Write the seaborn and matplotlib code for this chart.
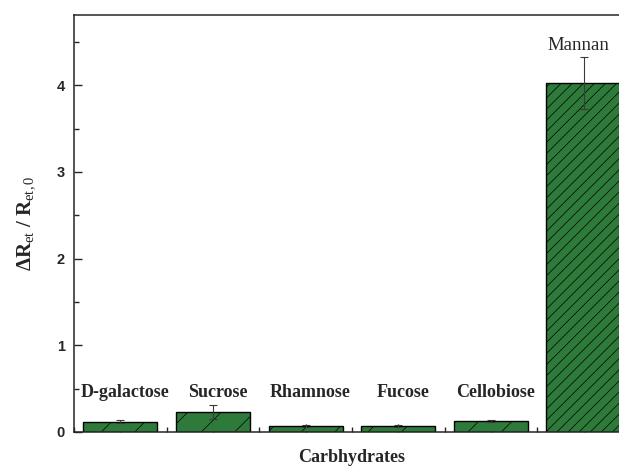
import matplotlib
matplotlib.use("Agg")
import matplotlib.pyplot as plt
import seaborn as sns
import pandas as pd
from matplotlib.ticker import MultipleLocator

# Response of the sensor to each carbohydrate
categories = ["D-galactose", "Sucrose", "Rhamnose", "Fucose", "Cellobiose", "Mannan"]
values = [0.12, 0.23, 0.07, 0.07, 0.13, 4.03]
errors = [0.02, 0.08, 0.015, 0.01, 0.01, 0.30]
hatches = ["/", "/", "/", "/", "/", "///"]

sns.set_style("ticks")
plt.rcParams["font.family"] = ["Liberation Serif", "DejaVu Serif"]
plt.rcParams["mathtext.fontset"] = "custom"
plt.rcParams["mathtext.rm"] = "Liberation Serif"
plt.rcParams["mathtext.bf"] = "Liberation Serif:bold"
plt.rcParams["mathtext.it"] = "Liberation Serif:italic"
plt.rcParams["hatch.linewidth"] = 0.5

df = pd.DataFrame({"carb": categories, "val": values})

fig = plt.figure(figsize=(6.19, 4.66), dpi=100)
ax = fig.add_axes([0.1195, 0.073, 0.898, 0.895])

green = "#2d7a3b"
sns.barplot(data=df, x="carb", y="val", color=green, saturation=1,
            edgecolor="black", linewidth=1.0, width=0.8, errorbar=None, ax=ax)

centers = []
for patch, h in zip(ax.patches, hatches):
    patch.set_hatch(h)
    centers.append(patch.get_x() + patch.get_width() / 2)

ax.errorbar(centers, values, yerr=errors, fmt="none", ecolor="#3a3a3a",
            elinewidth=0.8, capsize=3, capthick=0.8, zorder=5)

# Sample names above the bars
for i, name in enumerate(categories[:-1]):
    ax.text(centers[i] + 0.05, 0.45, name, ha="center", va="center",
            fontsize=13, fontweight="bold")
ax.text(centers[-1] - 0.06, 4.46, categories[-1], ha="center", va="center",
        fontsize=13.5)

ax.set_xlim(-0.5, 5.5)
ax.set_ylim(0, 4.81)

ax.yaxis.set_major_locator(MultipleLocator(1))
ax.yaxis.set_minor_locator(MultipleLocator(0.5))
ax.xaxis.set_minor_locator(MultipleLocator(1, offset=0.5))
ax.tick_params(axis="both", which="major", direction="in", length=5.8, width=1.0)
ax.tick_params(axis="both", which="minor", direction="in", length=3.4, width=1.0)
ax.tick_params(axis="y", which="major", pad=6.5)
ax.set_xticklabels([])
for lbl in ax.get_yticklabels():
    lbl.set_fontfamily("Liberation Sans")
    lbl.set_fontweight("bold")
    lbl.set_fontsize(10.5)

for s in ax.spines.values():
    s.set_visible(True)
    s.set_linewidth(1.1)

ax.set_xlabel("Carbhydrates", fontsize=13, fontweight="bold", labelpad=9)
ax.set_ylabel(r"$\mathbf{\Delta R}_{\mathrm{et}}\ \mathbf{/\ R}_{\mathrm{et,0}}$",
              fontsize=15, labelpad=14)

fig.savefig("out.png", dpi=100)
